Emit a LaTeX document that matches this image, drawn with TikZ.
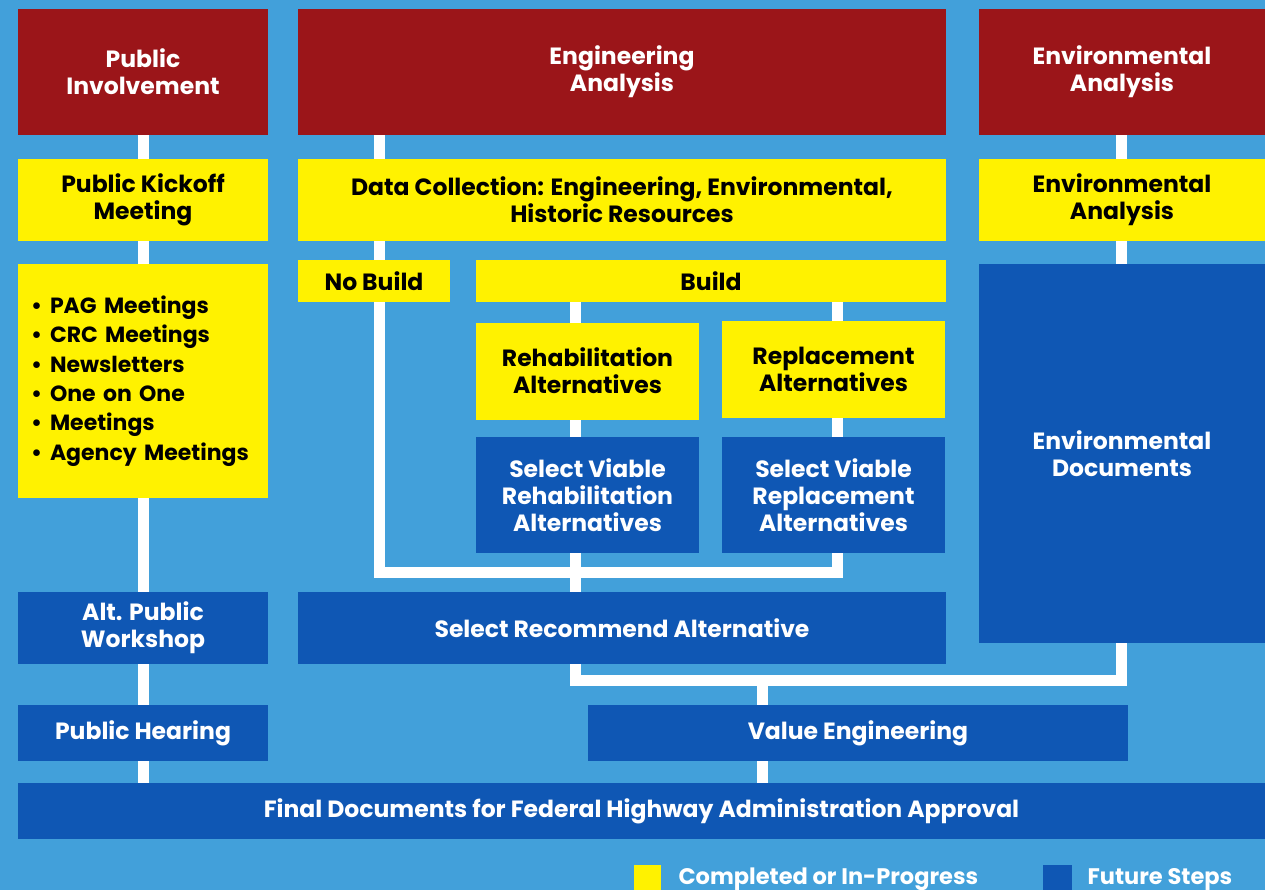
\documentclass[tikz,border=0pt]{standalone}
\usepackage{fontspec}
\setmainfont{Poppins}
\usetikzlibrary{backgrounds}

\definecolor{skyback}{HTML}{42A0DA}
\definecolor{headred}{HTML}{9B1519}
\definecolor{doneyel}{HTML}{FFF200}
\definecolor{futblue}{HTML}{0F57B4}

\newcommand{\bul}{\textbullet\hspace{8pt}}

\tikzset{
  box/.style args={#1,#2}{minimum width=#1, minimum height=#2, inner sep=0pt, align=center,
     font=\fontsize{23.5}{27}\selectfont\bfseries},
  head/.style={fill=headred, text=white},
  done/.style={fill=doneyel, text=black},
  future/.style={fill=futblue, text=white},
  link/.style={draw=white, line width=11pt},
  keytext/.style={anchor=base west, text=white, font=\fontsize{22.5}{26}\selectfont\bfseries}
}

\begin{document}
\begin{tikzpicture}[x=1pt, y=-1pt]
            \useasboundingbox (0,0) rectangle (1265,890);
            % top row
            \node[head, box={250pt,126pt}] (pinv) at (143,72) {Public\\Involvement};
            \node[head, box={648pt,126pt}] (eng) at (622,72) {Engineering\\Analysis};
            \node[head, box={286pt,126pt}] (enva) at (1122,72) {Environmental\\Analysis};
            % second row
            \node[done, box={250pt,82pt}] (kick) at (143,200) {Public Kickoff\\Meeting};
            \node[done, box={648pt,82pt}] (datac) at (622,200) {Data Collection: Engineering, Environmental,\\Historic Resources};
            \node[done, box={286pt,82pt}] (envb) at (1122,200) {Environmental\\Analysis};
            \node[done, box={250pt,234pt}, text width=224pt, inner xsep=13pt, align=left,
                  font=\fontsize{22}{29.3}\selectfont\bfseries] (meet) at (143,381)
                  {\bul PAG Meetings\\\bul CRC Meetings\\\bul Newsletters\\\bul One on One\\\bul Meetings\\\bul Agency Meetings};
            % alternatives
            \node[done, box={152pt,42pt}] (nob) at (374,281) {No Build};
            \node[done, box={470pt,42pt}] (build) at (711,281) {Build};
            \node[done, box={223pt,97pt}] (rehab) at (587.5,371) {Rehabilitation\\Alternatives};
            \node[done, box={223pt,97pt}] (repl) at (833.5,369.5) {Replacement\\Alternatives};
            \node[future, box={223pt,116pt}] (selrh) at (587.5,495) {Select Viable\\Rehabilitation\\Alternatives};
            \node[future, box={223pt,116pt}] (selrp) at (833.5,495) {Select Viable\\Replacement\\Alternatives};
            \node[future, box={286pt,379pt}] (envdoc) at (1122,453.5) {Environmental\\Documents};
            % lower rows
            \node[future, box={250pt,72pt}] (altws) at (143,628) {Alt. Public\\Workshop};
            \node[future, box={648pt,72pt}] (selrec) at (622,628) {Select Recommend Alternative};
            \node[future, box={250pt,56pt}] (hear) at (143,733) {Public Hearing};
            \node[future, box={540pt,56pt}] (valeng) at (858,733) {Value Engineering};
            \node[future, box={1247pt,56pt}] (final) at (641.5,811) {Final Documents for Federal Highway Administration Approval};
            % legend
            \node[fill=doneyel, minimum width=27pt, minimum height=25pt, inner sep=0pt] (keydone) at (647,877.5) {};
            \node[keytext] (keydonetxt) at (675,884) {Completed or In-Progress};
            \node[fill=futblue, minimum width=29pt, minimum height=25pt, inner sep=0pt] (keyfut) at (1057.5,877.5) {};
            \node[keytext] (keyfuttxt) at (1084,884) {Future Steps};
            % connectors
            \coordinate (engx) at (379.5,0);
            \coordinate (rhx) at (575.5,0);
            \coordinate (rpx) at (837.5,0);
            \coordinate (envx) at (1121.5,0);
            \coordinate (vex) at (762,0);
            \coordinate (joina) at (0,572);
            \coordinate (joinb) at (0,680.5);
            \begin{scope}[on background layer]
              \fill[skyback] (0,0) rectangle (1265,890);
              \draw[link] (pinv.south) -- (pinv.south |- final.north);
              \draw[link] (eng.south -| engx) -- (engx |- joina) -- (rpx |- joina) -- (build.south -| rpx);
              \draw[link] (build.south -| rhx) -- (selrec.north -| rhx);
              \draw[link] (selrec.south -| rhx) -- (rhx |- joinb) -- (envx |- joinb) -- (enva.south -| envx);
              \draw[link] (vex |- joinb) -- (final.north -| vex);
            \end{scope}
        \end{tikzpicture}
\end{document}
